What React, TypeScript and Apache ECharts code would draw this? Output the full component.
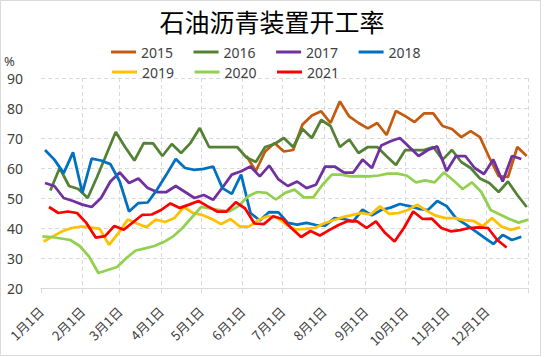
import React, { useEffect, useRef } from 'react';
import * as echarts from 'echarts';

// ---- data ----
const titleText = '石油沥青装置开工率';
const yUnit = '%';
const monthLengths = [31, 28, 31, 30, 31, 30, 31, 31, 30, 31, 30, 31];
const yMin = 20;
const yMax = 90;
const yStep = 10;

const names = ['2015', '2016', '2017', '2018', '2019', '2020', '2021'];
const colors = ['#C55A11', '#548235', '#7030A0', '#0070C0', '#FFC000', '#92D050', '#FF0000'];

// first weekly observation (day of year, 0 = 1月1日), values weekly after it
const startDays = [154, 7, 3, 3, 2, 1, 6];

const v2015 = [64, 59, 65.5, 68.3, 65.5, 66, 74.5, 77.5, 78.9, 75, 82.2, 77.2, 75, 73.2, 75, 71, 79, 77.3, 75.3, 78.2,
  78.2, 74, 73, 70.3, 72.3, 70.3, 63.5, 57.3, 57, 67, 64];
const v2016 = [52.5, 60, 54, 53, 50, 57, 64.5, 72, 67, 62.5, 68.3, 68.2, 64, 68, 65, 68.3, 73.3, 67, 67, 67,
  67, 63.5, 62, 67, 68, 70, 67, 73, 70, 76, 74, 67, 69.5, 65, 67, 67, 63.9, 61, 66, 66,
  66, 67, 62.8, 66, 62, 60, 56.5, 55, 52, 55.5, 51, 47];
const v2017 = [55, 54, 50, 49, 47.8, 47, 50, 55.5, 58.5, 55, 56.5, 53.3, 52, 52, 54, 52, 50, 51, 49.4, 53.5,
  57.8, 58.9, 60.5, 57.2, 60.8, 56.2, 54, 55.5, 53.3, 54.4, 60.5, 60.5, 58.5, 58.5, 62.8, 60, 67.5, 68.9, 70, 67,
  64, 66, 67.2, 59, 64, 64, 60, 58, 62.8, 55.5, 64, 63];
const v2018 = [66, 62.8, 58.3, 65.2, 51.7, 63.1, 62.5, 61.3, 55.5, 45.5, 48.3, 48.5, 52.8, 57.8, 63, 60, 59.4, 59.7, 60.5, 53.3,
  51.4, 57.8, 45, 42.5, 45.3, 45.2, 41.7, 41.1, 41.7, 41, 40.8, 43.3, 43, 42.2, 46.1, 44.2, 46, 46.8, 48, 47.3,
  46.4, 46, 49, 47.3, 43.3, 41.3, 39.1, 36.9, 34.7, 37.7, 36, 37.1];
const v2019 = [35.5, 37.2, 38.9, 40, 40.5, 40.2, 39.7, 34.4, 38.3, 42.8, 41.5, 40.3, 42.8, 42, 43.3, 47, 45, 44.3, 43, 41.3,
  43, 40.5, 40.5, 42.7, 44, 43.4, 41.1, 39.5, 39.7, 40, 41.5, 42.6, 43.6, 44.3, 45, 44.5, 47.2, 44.7, 45, 46,
  47.8, 45.7, 44.1, 43.3, 43.3, 42.6, 42.4, 40.6, 43.3, 40.5, 39.4, 40.2];
const v2020 = [37.2, 37, 36.5, 36, 34, 30.5, 25, 26, 27, 30, 32.5, 33.2, 34, 35.3, 37.2, 40, 43.5, 47, 46.5, 46,
  45.5, 47.3, 50.5, 52, 51.7, 49.5, 51.7, 52.8, 50.2, 50.2, 54.4, 57.8, 57.8, 57.2, 57.3, 57.2, 57.5, 58.1, 58.1, 57.5,
  55.2, 55.9, 55.2, 58.5, 55.9, 53, 55.2, 52, 46, 44.5, 43, 41.8, 42.8];
const v2021 = [47, 45, 45.5, 45, 41.7, 36.8, 37.3, 40.7, 39.4, 41.9, 44.4, 44.5, 46, 48.2, 46.7, 47.8, 49, 47.2, 45.5, 45.5,
  48.6, 46.5, 41.5, 41.3, 43.9, 43, 39.8, 37, 39, 37.5, 39.3, 41, 42.3, 42.2, 40, 42.2, 38.3, 35.5, 40, 45.5,
  43, 43.1, 40, 38.9, 39.3, 40, 40.2, 40, 36, 33.5];
const allValues = [v2015, v2016, v2017, v2018, v2019, v2020, v2021];
// single marked point on 2017 line (index into v2017)
const markedIndex2017 = 49;

export default function App() {
  const ref = useRef<HTMLDivElement>(null);

  useEffect(() => {
    if (!ref.current) return;
    const chart = echarts.init(ref.current, null, { renderer: 'svg' });

    const categories: string[] = [];
    monthLengths.forEach((len, m) => {
      for (let d = 1; d <= len; d++) categories.push(`${m + 1}月${d}日`);
    });
    categories.push('1月1日');
    const monthStarts = new Set<number>([0]);
    let acc = 0;
    monthLengths.forEach((l) => {
      acc += l;
      monthStarts.add(acc);
    });
    const lastIdx = categories.length - 1;

    const series = names.map((name, k) => ({
      name,
      type: 'line',
      symbol: 'none',
      showSymbol: true,
      smooth: false,
      lineStyle: { width: 2.75, color: colors[k] },
      itemStyle: { color: colors[k] },
      z: 2 + k,
      data: allValues[k].map((v, i) => {
        const x = startDays[k] + 7 * i;
        if (k === 2 && i === markedIndex2017) {
          return { value: [x, v], symbol: 'circle', symbolSize: 6 };
        }
        return [x, v];
      }),
    }));

    const legendText = { fontSize: 14, color: '#404040', fontFamily: 'Noto Sans' };

    chart.setOption({
      animation: false,
      backgroundColor: '#ffffff',
      grid: { left: 41, right: 22, top: 78, bottom: 69 },
      legend: [
        {
          data: names.slice(0, 4),
          left: 111,
          top: 45,
          padding: 0,
          icon: 'rect',
          itemWidth: 25,
          itemHeight: 3,
          itemGap: 20.5,
          textStyle: legendText,
        },
        {
          data: names.slice(4),
          left: 112,
          top: 65,
          padding: 0,
          icon: 'rect',
          itemWidth: 25,
          itemHeight: 3,
          itemGap: 20.5,
          textStyle: legendText,
        },
      ],
      xAxis: {
        type: 'category',
        data: categories,
        boundaryGap: false,
        axisLine: { lineStyle: { color: '#D9D9D9', width: 1 } },
        axisTick: {
          show: true,
          length: 5,
          interval: (i: number) => monthStarts.has(i),
          lineStyle: { color: '#D9D9D9' },
        },
        splitLine: {
          show: true,
          interval: (i: number) => monthStarts.has(i) && i !== 0,
          lineStyle: { color: '#D9D9D9', type: [4, 3], width: 1 },
        },
        axisLabel: {
          interval: (i: number) => monthStarts.has(i) && i !== lastIdx,
          rotate: 45,
          margin: 21,
          fontSize: 13,
          color: '#404040',
          fontFamily: 'Noto Sans CJK SC',
        },
      },
      yAxis: {
        type: 'value',
        min: yMin,
        max: yMax,
        interval: yStep,
        axisLine: { show: false },
        axisTick: { show: false },
        splitLine: { lineStyle: { color: '#D9D9D9', type: [4, 3], width: 1 } },
        axisLabel: { fontSize: 14, color: '#404040', margin: 18, fontFamily: 'Noto Sans' },
      },
      graphic: [
        {
          type: 'rect',
          shape: { x: 0.5, y: 0.5, width: 540, height: 355 },
          style: { fill: 'none', stroke: '#D9D9D9', lineWidth: 1 },
          silent: true,
          z: -10,
        },
        {
          type: 'text',
          x: 272,
          y: 21,
          style: {
            text: titleText,
            fontSize: 25,
            fill: '#000000',
            fontFamily: 'Noto Sans CJK SC',
            textAlign: 'center',
            textVerticalAlign: 'middle',
          },
        },
        {
          type: 'text',
          x: 4,
          y: 61,
          style: {
            text: yUnit,
            fontSize: 13,
            fill: '#404040',
            fontFamily: 'Noto Sans',
            textAlign: 'left',
            textVerticalAlign: 'middle',
          },
        },
      ],
      series,
    });

    return () => chart.dispose();
  }, []);

  return (
    <div
      ref={ref}
      style={{ position: 'fixed', left: 0, top: 0, width: 550, height: 357 }}
    />
  );
}
